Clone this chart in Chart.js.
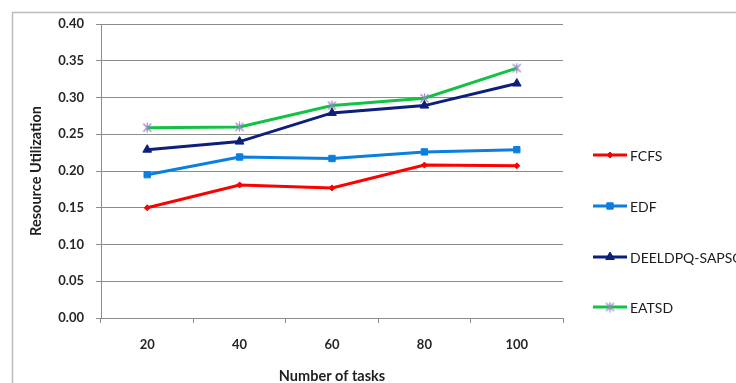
<!DOCTYPE html>
<html>
<head>
<meta charset="utf-8">
<script src="https://cdn.jsdelivr.net/npm/chart.js@4/dist/chart.umd.min.js"></script>
<style>
  html, body { margin: 0; padding: 0; background: #ffffff; }
  #wrap { width: 736px; height: 383px; position: relative; }
</style>
</head>
<body>
<div id="wrap"><canvas id="chart" width="736" height="383"></canvas></div>
<script>
// Number of tasks on the x axis
const taskCounts = ['20', '40', '60', '80', '100'];

// Resource utilization per scheduling method
const fcfs    = [0.150, 0.181, 0.177, 0.208, 0.207];
const edf     = [0.195, 0.219, 0.217, 0.226, 0.229];
const deeldpq = [0.229, 0.240, 0.279, 0.289, 0.319];
const eatsd   = [0.259, 0.260, 0.289, 0.299, 0.340];

const seriesNames = ['FCFS', 'EDF', 'DEELDPQ-SAPSO', 'EATSD'];

// Asterisk marker: an X crossed by a vertical stroke
function makeAsterisk(color) {
  const c = document.createElement('canvas');
  c.width = 11; c.height = 11;
  const g = c.getContext('2d');
  g.strokeStyle = color;
  g.lineWidth = 1.2;
  g.beginPath();
  g.moveTo(1.5, 1.5); g.lineTo(9.5, 9.5);
  g.moveTo(9.5, 1.5); g.lineTo(1.5, 9.5);
  g.moveTo(5.5, 0.5); g.lineTo(5.5, 10.5);
  g.stroke();
  return c;
}
const asterisk = makeAsterisk('#9486c6');

const tickFont = { family: 'Lato', size: 13, weight: 'bold' };
const titleFont = { family: 'Lato', size: 14.5, weight: 'bold' };
const gridColor = '#8c8c8c';

// Frame around the whole figure
const framePlugin = {
  id: 'frame',
  beforeDraw(chart) {
    const ctx = chart.ctx;
    ctx.save();
    ctx.fillStyle = '#ffffff';
    ctx.fillRect(0, 0, chart.width, chart.height);
    ctx.strokeStyle = '#bdbdbd';
    ctx.lineWidth = 1.5;
    ctx.strokeRect(12.5, 12.5, chart.width + 20, chart.height + 20);
    ctx.restore();
  }
};

// Legend on the right: a short line with the series marker, then the name
const sideLegend = {
  id: 'sideLegend',
  afterDraw(chart) {
    const ctx = chart.ctx;
    const x0 = 593, x1 = 627;
    const rowY = [155, 206, 257, 307];
    ctx.save();
    chart.data.datasets.forEach((ds, i) => {
      const y = rowY[i];
      ctx.strokeStyle = ds.borderColor;
      ctx.lineWidth = ds.borderWidth;
      ctx.beginPath();
      ctx.moveTo(x0, y);
      ctx.lineTo(x1, y);
      ctx.stroke();
      ctx.fillStyle = ds.pointBackgroundColor;
      ctx.strokeStyle = ds.pointBorderColor;
      ctx.lineWidth = 1;
      Chart.helpers.drawPoint(ctx, {
        pointStyle: ds.pointStyle,
        radius: ds.pointRadius,
        rotation: 0,
        borderWidth: 1
      }, (x0 + x1) / 2, y);
      ctx.fillStyle = '#1a1a1a';
      ctx.font = '14px Lato';
      ctx.textBaseline = 'middle';
      ctx.textAlign = 'left';
      ctx.fillText(ds.label, x1 + 3, y + 1);
    });
    ctx.restore();
  }
};

function series(label, data, color, style, radius, pointColor) {
  return {
    label: label,
    data: data,
    borderColor: color,
    backgroundColor: color,
    borderWidth: 3,
    tension: 0,
    pointStyle: style,
    pointRadius: radius,
    pointHoverRadius: radius,
    pointBackgroundColor: pointColor || color,
    pointBorderColor: pointColor || color,
    pointBorderWidth: 1
  };
}

new Chart(document.getElementById('chart'), {
  type: 'line',
  data: {
    labels: taskCounts,
    datasets: [
      series(seriesNames[0], fcfs, '#ff0000', 'rectRot', 3),
      series(seriesNames[1], edf, '#0a7fe0', 'rect', 4.5),
      series(seriesNames[2], deeldpq, '#0d1f7a', 'triangle', 5),
      series(seriesNames[3], eatsd, '#12c244', asterisk, 5.5, '#9486c6')
    ]
  },
  options: {
    responsive: false,
    animation: false,
    events: [],
    layout: { padding: { left: 0, top: 24, right: 173, bottom: 0 } },
    plugins: {
      legend: { display: false },
      tooltip: { enabled: false }
    },
    scales: {
      x: {
        type: 'category',
        offset: true,
        grid: {
          offset: true,
          drawOnChartArea: false,
          drawTicks: true,
          tickLength: 5,
          color: gridColor
        },
        border: { color: gridColor, width: 1 },
        ticks: { color: '#262626', font: tickFont, padding: 14, maxRotation: 0 },
        title: {
          display: true,
          text: 'Number of tasks',
          color: '#1f1f1f',
          font: titleFont,
          padding: { top: 0, bottom: -2 }
        },
        afterFit(scale) { scale.height = 65; }
      },
      y: {
        min: 0,
        max: 0.4,
        grid: {
          color: gridColor,
          lineWidth: 1,
          drawTicks: true,
          tickLength: 5
        },
        border: { color: gridColor, width: 1 },
        ticks: {
          stepSize: 0.05,
          color: '#262626',
          font: tickFont,
          padding: 12,
          callback: v => v.toFixed(2)
        },
        title: {
          display: true,
          text: 'Resource Utilization',
          color: '#1f1f1f',
          font: titleFont,
          padding: { top: 28, bottom: 0 }
        },
        afterFit(scale) { scale.width = 101; }
      }
    }
  },
  plugins: [framePlugin, sideLegend]
});
</script>
</body>
</html>
